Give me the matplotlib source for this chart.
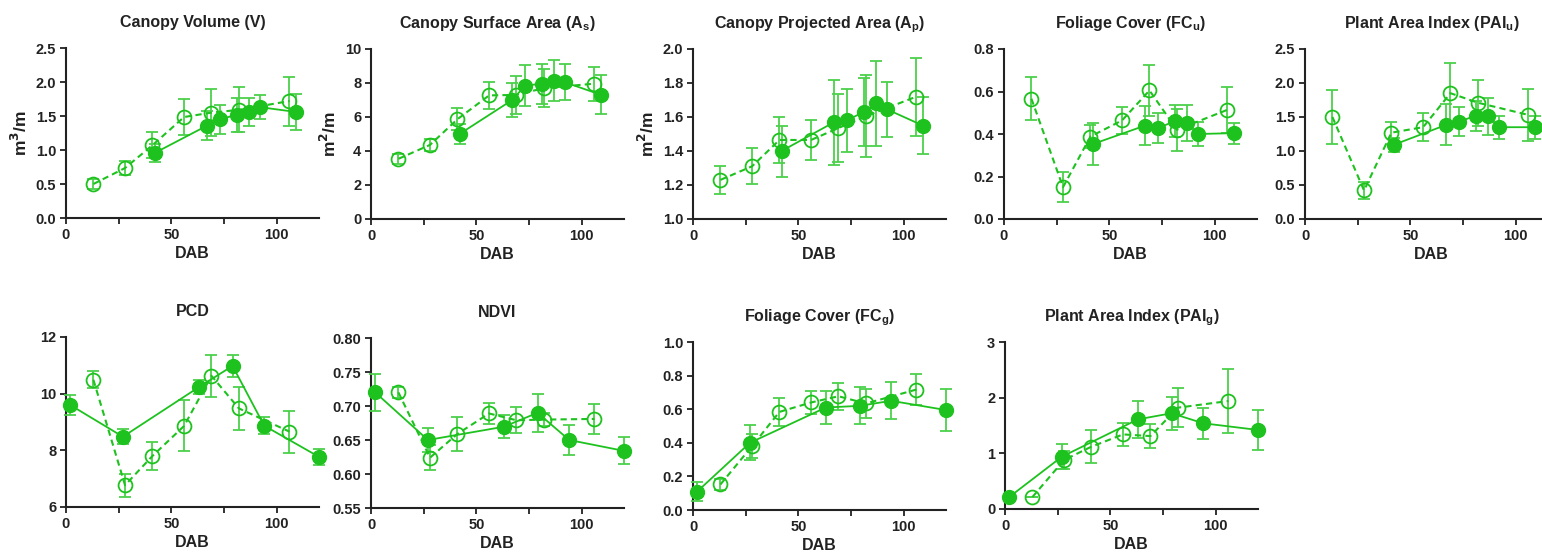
import matplotlib
matplotlib.use("Agg")
import matplotlib.pyplot as plt
import matplotlib.ticker as ticker

plt.rcParams['font.family'] = ['Liberation Sans', 'DejaVu Sans']
plt.rcParams['font.weight'] = 'bold'

# DAB positions
top_fill_x = [42, 67, 73, 81, 87, 92, 109]
top_open_x = [13, 28, 41, 56, 69, 82, 106]
bot_fill_x = [2, 27, 63, 79, 94, 120]
bot_open_x = [13, 28, 41, 56, 69, 82, 106]

# Canopy Volume
vol_fill = [0.955, 1.36, 1.45, 1.52, 1.56, 1.63, 1.56]
vol_fill_err = [0.13, 0.22, 0.21, 0.25, 0.21, 0.18, 0.26]
vol_open = [0.50, 0.735, 1.07, 1.485, 1.55, 1.59, 1.72]
vol_open_err = [0.08, 0.10, 0.19, 0.27, 0.35, 0.33, 0.36]

# Canopy Surface Area
sa_fill = [5.0, 7.0, 7.84, 7.96, 8.13, 8.04, 7.31]
sa_fill_err = [0.6, 1.0, 1.2, 1.18, 1.2, 1.05, 1.15]
sa_open = [3.54, 4.36, 5.87, 7.27, 7.3, 7.7, 7.96]
sa_open_err = [0.3, 0.35, 0.65, 0.8, 1.1, 1.1, 1.0]

# Canopy Projected Area
pa_fill = [1.40, 1.57, 1.58, 1.63, 1.68, 1.645, 1.55]
pa_fill_err = [0.15, 0.25, 0.185, 0.2, 0.25, 0.16, 0.17]
pa_open = [1.23, 1.31, 1.465, 1.465, 1.535, 1.605, 1.72]
pa_open_err = [0.08, 0.105, 0.135, 0.12, 0.2, 0.24, 0.23]

# Foliage Cover (FCu)
fcu_fill = [0.352, 0.44, 0.428, 0.46, 0.45, 0.40, 0.404]
fcu_fill_err = [0.1, 0.09, 0.07, 0.075, 0.085, 0.055, 0.05]
fcu_open = [0.566, 0.15, 0.388, 0.464, 0.605, 0.42, 0.514]
fcu_open_err = [0.1, 0.07, 0.055, 0.063, 0.12, 0.1, 0.108]

# Plant Area Index (PAIu)
paiu_fill = [1.09, 1.385, 1.43, 1.52, 1.51, 1.35, 1.35]
paiu_fill_err = [0.1, 0.3, 0.21, 0.22, 0.27, 0.17, 0.17]
paiu_open = [1.50, 0.42, 1.27, 1.35, 1.85, 1.71, 1.53]
paiu_open_err = [0.4, 0.13, 0.16, 0.21, 0.44, 0.34, 0.38]

# PCD
pcd_fill = [9.6, 8.48, 10.23, 10.98, 8.87, 7.77]
pcd_fill_err = [0.37, 0.26, 0.24, 0.38, 0.3, 0.27]
pcd_open = [10.49, 6.77, 7.8, 8.86, 10.63, 9.48, 8.66]
pcd_open_err = [0.3, 0.4, 0.49, 0.9, 0.74, 0.76, 0.74]

# NDVI
ndvi_fill = [0.72, 0.65, 0.6695, 0.69, 0.65, 0.634]
ndvi_fill_err = [0.027, 0.018, 0.017, 0.028, 0.022, 0.02]
ndvi_open = [0.72, 0.624, 0.659, 0.689, 0.679, 0.68, 0.681]
ndvi_open_err = [0.008, 0.018, 0.025, 0.016, 0.019, 0.01, 0.022]

# Foliage Cover (FCg)
fcg_fill = [0.11, 0.40, 0.61, 0.62, 0.65, 0.595]
fcg_fill_err = [0.057, 0.105, 0.1, 0.11, 0.11, 0.125]
fcg_open = [0.152, 0.38, 0.584, 0.64, 0.677, 0.634, 0.717]
fcg_open_err = [0.035, 0.07, 0.083, 0.068, 0.08, 0.086, 0.094]

# Plant Area Index (PAIg)
paig_fill = [0.215, 0.94, 1.61, 1.72, 1.54, 1.42]
paig_fill_err = [0.03, 0.23, 0.33, 0.3, 0.28, 0.36]
paig_open = [0.215, 0.88, 1.12, 1.34, 1.31, 1.82, 1.94]
paig_open_err = [0.0, 0.17, 0.3, 0.21, 0.22, 0.35, 0.57]

GREEN = '#1ec21e'
ERRC = '#4cd14c'
TXT = '#222222'

W, H = 1542, 556
fig = plt.figure(figsize=(W / 100, H / 100), dpi=100)


def make_ax(left, top, bottom, width=253):
    return fig.add_axes([left / W, 1 - bottom / H, width / W, (bottom - top) / H])


def draw(ax, title, fx, fy, fe, ox, oy, oe, ylim, yticks, ylabel=None):
    ax.errorbar(fx, fy, yerr=fe, color=GREEN, lw=1.3, ecolor=ERRC, elinewidth=1.3,
                capsize=4, capthick=1.3, marker='o', ms=10, mfc=GREEN, mec=GREEN,
                clip_on=False, zorder=3)
    ax.errorbar(ox, oy, yerr=oe, color=GREEN, lw=1.5, ls=(0, (3, 2)), ecolor=ERRC,
                elinewidth=1.3, capsize=4, capthick=1.3, marker='o', ms=10,
                mfc='none', mec=GREEN, mew=1.3, clip_on=False, zorder=3)
    ax.set_xlim(0, 120)
    ax.set_ylim(*ylim)
    ax.set_yticks(yticks)
    ax.xaxis.set_major_locator(ticker.MultipleLocator(50))
    ax.xaxis.set_minor_locator(ticker.MultipleLocator(25))
    ax.tick_params(which='both', direction='out', length=4, width=1.3, colors=TXT,
                   labelsize=10.5, pad=3)
    ax.tick_params(which='minor', length=4)
    for s in ['top', 'right']:
        ax.spines[s].set_visible(False)
    for s in ['left', 'bottom']:
        ax.spines[s].set_linewidth(1.5)
        ax.spines[s].set_color(TXT)
    ax.set_title(title, fontsize=11.5, fontweight='bold', color=TXT, pad=15)
    ax.set_xlabel('DAB', fontsize=11.5, fontweight='bold', color=TXT, labelpad=3)
    if ylabel:
        ax.set_ylabel(ylabel, fontsize=12.5, fontweight='bold', color=TXT, labelpad=4)


ax1 = make_ax(66, 48, 218)
draw(ax1, 'Canopy Volume (V)', top_fill_x, vol_fill, vol_fill_err,
     top_open_x, vol_open, vol_open_err, (0, 2.5), [0, 0.5, 1.0, 1.5, 2.0, 2.5], r'm$^3$/m')
ax1.yaxis.set_major_formatter(ticker.FormatStrFormatter('%.1f'))

ax2 = make_ax(371, 49, 219)
draw(ax2, r'Canopy Surface Area (A$_\mathregular{s}$)', top_fill_x, sa_fill, sa_fill_err,
     top_open_x, sa_open, sa_open_err, (0, 10), [0, 2, 4, 6, 8, 10], r'm$^2$/m')

ax3 = make_ax(693, 49, 219)
draw(ax3, r'Canopy Projected Area (A$_\mathregular{p}$)', top_fill_x, pa_fill, pa_fill_err,
     top_open_x, pa_open, pa_open_err, (1.0, 2.0), [1.0, 1.2, 1.4, 1.6, 1.8, 2.0], r'm$^2$/m')
ax3.yaxis.set_major_formatter(ticker.FormatStrFormatter('%.1f'))

ax4 = make_ax(1004, 49, 219)
draw(ax4, r'Foliage Cover (FC$_\mathregular{u}$)', top_fill_x, fcu_fill, fcu_fill_err,
     top_open_x, fcu_open, fcu_open_err, (0, 0.8), [0, 0.2, 0.4, 0.6, 0.8])
ax4.yaxis.set_major_formatter(ticker.FormatStrFormatter('%.1f'))

ax5 = make_ax(1305, 49, 219)
draw(ax5, r'Plant Area Index (PAI$_\mathregular{u}$)', top_fill_x, paiu_fill, paiu_fill_err,
     top_open_x, paiu_open, paiu_open_err, (0, 2.5), [0, 0.5, 1.0, 1.5, 2.0, 2.5])
ax5.yaxis.set_major_formatter(ticker.FormatStrFormatter('%.1f'))

ax6 = make_ax(66, 337, 507)
draw(ax6, 'PCD', bot_fill_x, pcd_fill, pcd_fill_err,
     bot_open_x, pcd_open, pcd_open_err, (6, 12), [6, 8, 10, 12])

ax7 = make_ax(371, 338, 508)
draw(ax7, 'NDVI', bot_fill_x, ndvi_fill, ndvi_fill_err,
     bot_open_x, ndvi_open, ndvi_open_err, (0.55, 0.80), [0.55, 0.60, 0.65, 0.70, 0.75, 0.80])
ax7.yaxis.set_major_formatter(ticker.FormatStrFormatter('%.2f'))

ax8 = make_ax(693, 342, 510)
draw(ax8, r'Foliage Cover (FC$_\mathregular{g}$)', bot_fill_x, fcg_fill, fcg_fill_err,
     bot_open_x, fcg_open, fcg_open_err, (0, 1.0), [0, 0.2, 0.4, 0.6, 0.8, 1.0])
ax8.yaxis.set_major_formatter(ticker.FormatStrFormatter('%.1f'))

ax9 = make_ax(1005, 342, 509)
draw(ax9, r'Plant Area Index (PAI$_\mathregular{g}$)', bot_fill_x, paig_fill, paig_fill_err,
     bot_open_x, paig_open, paig_open_err, (0, 3), [0, 1, 2, 3])

fig.savefig('out.png', dpi=100)
